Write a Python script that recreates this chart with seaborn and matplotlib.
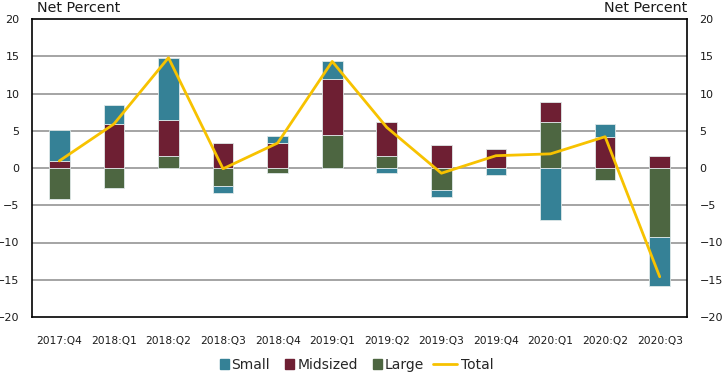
import matplotlib
matplotlib.use("Agg")
import matplotlib.pyplot as plt
import seaborn as sns
import numpy as np
from matplotlib.lines import Line2D
from matplotlib.patches import Patch

categories = ["2017:Q4", "2018:Q1", "2018:Q2", "2018:Q3", "2018:Q4", "2019:Q1",
              "2019:Q2", "2019:Q3", "2019:Q4", "2020:Q1", "2020:Q2", "2020:Q3"]
small = [4.05, 2.6, 8.3, -0.9, 0.9, 2.4, -0.7, -0.85, -0.95, -6.95, 1.7, -6.6]
midsized = [1.0, 5.9, 4.85, 3.35, 3.35, 7.45, 4.6, 3.1, 2.5, 2.65, 4.2, 1.6]
large = [-4.15, -2.7, 1.65, -2.4, -0.65, 4.45, 1.6, -3.0, 0.0, 6.15, -1.55, -9.3]
total = [0.95, 5.9, 14.8, -0.1, 3.35, 14.3, 5.45, -0.7, 1.65, 1.9, 4.2, -14.6]
yticks = [-20, -15, -10, -5, 0, 5, 10, 15, 20]

C_SMALL = "#358196"
C_MID = "#6e1f33"
C_LARGE = "#4d6641"
C_TOTAL = "#f7c200"

sns.set_theme(style="white")
plt.rcParams['font.family'] = ['DejaVu Sans']

W, H = 725, 375
fig = plt.figure(figsize=(W / 100, H / 100), dpi=100)
ax_left, ax_right, ax_top, ax_bot = 32, 692, 19, 317
ax = fig.add_axes([ax_left/W, (H-ax_bot)/H, (ax_right-ax_left)/W, (ax_bot-ax_top)/H])

for y in yticks[1:-1]:
    ax.axhline(y, color="#8c8c8c", lw=1.1, zorder=0)

pos_base = np.zeros(len(categories))
neg_base = np.zeros(len(categories))
for vals, col in [(large, C_LARGE), (midsized, C_MID), (small, C_SMALL)]:
    v = np.array(vals, dtype=float)
    bottom = np.where(v >= 0, pos_base, neg_base)
    sns.barplot(x=categories, y=v, bottom=bottom, color=col, width=0.38,
                errorbar=None, ax=ax, saturation=1, edgecolor="#dfe8e8",
                linewidth=0.6, zorder=2)
    pos_base = pos_base + np.where(v >= 0, v, 0)
    neg_base = neg_base + np.where(v < 0, v, 0)

sns.lineplot(x=np.arange(len(categories)), y=total, color=C_TOTAL, lw=2, ax=ax,
             zorder=3)

ax.set_xlim(-0.5, len(categories) - 0.5)
ax.set_ylim(-20, 20)
ax.set_yticks(yticks)
ax.set_xticks(range(len(categories)))
ax.set_xticklabels(categories, fontsize=7.7, color="#1a1a1a")
ax.tick_params(axis="y", labelleft=True, labelright=True, left=False, right=False,
               labelsize=8, labelcolor="#1a1a1a", pad=3)
ax.tick_params(axis="x", bottom=False, pad=8)
ax.set_xlabel("")
ax.set_ylabel("")
for s in ax.spines.values():
    s.set_visible(True)
    s.set_color("black")
    s.set_linewidth(1.2)

# keep right-hand tick labels inside the canvas
fig.canvas.draw()
r = fig.canvas.get_renderer()
max_x = max(t.label2.get_window_extent(r).x1 for t in ax.yaxis.get_major_ticks())
if max_x > W - 2:
    ax_right -= (max_x - (W - 2))
    ax.set_position([ax_left/W, (H-ax_bot)/H, (ax_right-ax_left)/W, (ax_bot-ax_top)/H])

fig.text(37/W, 1 - 8/H, "Net Percent", fontsize=10.3, color="#1a1a1a",
         ha="left", va="center")
fig.text(ax_right/W, 1 - 8/H, "Net Percent", fontsize=10.3, color="#1a1a1a",
         ha="right", va="center")

ly = 1 - 365/H
bar_handles = [Patch(color=C_SMALL), Patch(color=C_MID), Patch(color=C_LARGE)]
leg1 = fig.legend(bar_handles, ["Small", "Midsized", "Large"], loc="center right",
                  bbox_to_anchor=(424/W, ly), ncol=3, frameon=False,
                  fontsize=10, handlelength=0.65, handleheight=0.65,
                  handletextpad=0.2, columnspacing=1.1, borderpad=0,
                  borderaxespad=0)
leg2 = fig.legend([Line2D([], [], color=C_TOTAL, lw=2)], ["Total"],
                  loc="center left", bbox_to_anchor=(433/W, ly), frameon=False,
                  fontsize=10, handlelength=1.75, handletextpad=0.3,
                  borderpad=0, borderaxespad=0)

fig.savefig("out.png", dpi=100)
